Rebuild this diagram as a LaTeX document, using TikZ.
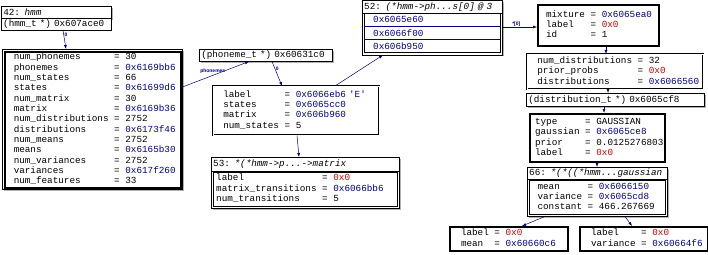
\documentclass[tikz,border=0pt]{standalone}
\usepackage{fontspec}
\setmonofont{Liberation Mono}
\setsansfont{Liberation Sans}
\usetikzlibrary{arrows.meta,positioning,shadows}
\definecolor{ptrblue}{RGB}{0,0,128}
\definecolor{nilred}{RGB}{204,0,0}
\newcommand{\Ptr}[1]{\textcolor{ptrblue}{#1}}
\newcommand{\Nil}{\textcolor{nilred}{0x0}}
\newcommand{\fields}[1]{\begin{tabular}{@{}lll@{}}#1\end{tabular}}

\begin{document}
\begin{tikzpicture}[x=1pt, y=-1pt,
    disp/.style={anchor=north west, inner ysep=0pt, align=left, fill=white,
                 font=\ttfamily\fontsize{9.3}{10.35}\selectfont\setlength{\tabcolsep}{0.3em}},
    dispframe/.style={disp, draw, line width=0.5pt,
                 drop shadow={shadow xshift=1.5pt, shadow yshift=-1.5pt, fill=black!30, opacity=1}},
    heavy/.style={disp, draw, line width=2pt},
    twin/.style={disp, draw, double, double distance=1.2pt, line width=0.5pt},
    ref/.style={draw=ptrblue, line width=0.5pt, -{Latex[length=4pt,width=3pt]}},
    reflabel/.style={font=\sffamily\bfseries\fontsize{5}{6}\selectfont, text=ptrblue, inner sep=0.5pt}]
  \useasboundingbox (0,0) rectangle (708,254);

  % the model pointer and its struct
  \node[dispframe, text width=106pt, inner xsep=2pt, minimum height=12pt] (hmmtitle) at (1,6) {42: \textit{hmm}};
  \node[disp, draw, text width=106pt, inner xsep=2pt, minimum height=12pt] (hmmptr) at (1,18) {(hmm\_t *) 0x607ace0};
  \node[dispframe, minimum width=180pt, minimum height=140pt, inner sep=0pt] (hmmframe) at (2,49) {};
  \node[disp, draw, line width=1.5pt, text width=158pt, inner xsep=9pt, minimum height=136pt] (hmmstruct) at (4,51) {\fields{
      num\_phonemes      & = & 30\\
      phonemes          & = & \Ptr{0x6169bb6}\\
      num\_states        & = & 66\\
      states            & = & \Ptr{0x61699d6}\\
      num\_matrix        & = & 30\\
      matrix            & = & \Ptr{0x6169b36}\\
      num\_distributions & = & 2752\\
      distributions     & = & \Ptr{0x6173f46}\\
      num\_means         & = & 2752\\
      means             & = & \Ptr{0x6165b30}\\
      num\_variances     & = & 2752\\
      variances         & = & \Ptr{0x617f260}\\
      num\_features      & = & 33}};

  % first phoneme
  \node[dispframe, text width=129pt, inner xsep=2pt, minimum height=12pt] (phonemeptr) at (199,49) {(phoneme\_t *) 0x60631c0};
  \node[twin, text width=146pt, inner xsep=10pt, minimum height=49pt] (phoneme) at (213,86) {\fields{
      label      & = & \Ptr{0x6066eb6 'E'}\\
      states     & = & \Ptr{0x6065cc0}\\
      matrix     & = & \Ptr{0x606b960}\\
      num\_states & = & 5}};

  % its transition matrix
  \node[dispframe, minimum width=188pt, minimum height=51pt, inner sep=0pt] (matframe) at (211,157) {};
  \node[disp, draw, text width=184pt, inner xsep=2pt, minimum height=14pt] (mattitle) at (211,157) {53: \textit{*(*hmm->p...->matrix}};
  \node[disp, draw, text width=178pt, inner xsep=3pt, minimum height=34pt] (matrix) at (213,172) {\fields{
      label              & = & \Nil\\
      matrix\_transitions & = & \Ptr{0x6066bb6}\\
      num\_transitions    & = & 5}};

  % its states
  \node[dispframe, minimum width=140pt, minimum height=54pt, inner sep=0pt] (arrframe) at (362,0.5) {};
  \node[disp, draw, text width=136pt, inner xsep=2pt, minimum height=12.5pt] (arrtitle) at (362,0.5) {52: \textit{(*hmm->ph...s[0] @ 3}};
  \node[disp, draw, text width=118pt, inner xsep=9pt, minimum height=13pt] (cellA) at (364,13) {\Ptr{0x6065e60}};
  \node[disp, draw, text width=118pt, inner xsep=9pt, minimum height=13pt] (cellB) at (364,26) {\Ptr{0x6066f00}};
  \node[disp, draw, text width=118pt, inner xsep=9pt, minimum height=13pt] (cellC) at (364,39) {\Ptr{0x606b950}};
  \draw[ptrblue] (cellA.south west) -- (cellA.south east);
  \draw[ptrblue, line width=1.5pt] (cellB.south west) -- (cellB.south east);

  % state 0 and its mixture
  \node[heavy, text width=105pt, inner xsep=8pt, minimum height=41pt] (mixture) at (537,4) {\fields{
      mixture & = & \Ptr{0x6065ea0}\\
      label   & = & \Nil\\
      id      & = & 1}};
  \node[twin, text width=156pt, inner xsep=10pt, minimum height=35pt] (distset) at (527,54) {\fields{
      num\_distributions & = & 32\\
      prior\_probs       & = & \Nil\\
      distributions     & = & \Ptr{0x6066560}}};
  \node[dispframe, text width=174pt, inner xsep=2pt, minimum height=13pt] (distptr) at (526,93) {(distribution\_t *) 0x6065cf8};
  \node[heavy, text width=125pt, inner xsep=5pt, minimum height=48pt] (dist) at (529,113) {\fields{
      type     & = & GAUSSIAN\\
      gaussian & = & \Ptr{0x6065ce8}\\
      prior    & = & 0.0125276803\\
      label    & = & \Nil}};

  % the gaussian
  \node[dispframe, minimum width=140pt, minimum height=49pt, inner sep=0pt] (gaussframe) at (527,167) {};
  \node[disp, draw, text width=136pt, inner xsep=2pt, minimum height=12pt] (gausstitle) at (527,167) {66: \textit{*(*((*hmm...gaussian}};
  \node[disp, draw, line width=1pt, text width=120pt, inner xsep=8pt, minimum height=34pt] (gauss) at (529,180) {\fields{
      mean     & = & \Ptr{0x6066150}\\
      variance & = & \Ptr{0x6065cd8}\\
      constant & = & 466.267669}};
  \node[heavy, text width=96pt, inner xsep=11pt, minimum height=24pt] (mean) at (449,226) {\fields{
      label & = & \Nil\\
      mean  & = & \Ptr{0x60660c6}}};
  \node[heavy, text width=106pt, inner xsep=11pt, minimum height=24pt] (variance) at (579,226) {\fields{
      label    & = & \Nil\\
      variance & = & \Ptr{0x60664f6}}};

  % references
  \draw[ref] ([xshift=62pt]hmmptr.south west) -- node[reflabel, pos=0.25, right] {0} ([xshift=64pt]hmmframe.north west);
  \draw[ref] ([yshift=-38pt]hmmframe.north east) -- node[reflabel, midway, above, xshift=-3pt] {phonemes} ([xshift=50pt]phonemeptr.south west);
  \draw[ref] ([xshift=73pt]phonemeptr.south west) -- node[reflabel, pos=0.3, right] {0} ([xshift=69pt]phoneme.north west);
  \draw[ref] ([xshift=122pt]phoneme.north west) -- ([xshift=21pt]arrframe.south west);
  \draw[ref] ([xshift=84pt]phoneme.south west) -- ([xshift=88pt]matframe.north west);
  \draw[ref] ([yshift=-26.5pt]arrframe.north east) -- node[reflabel, pos=0.4, above] {*[0]} ([yshift=-23pt]mixture.north west);
  \draw[ref] ([xshift=69pt]mixture.south west) -- ([xshift=79pt]distset.north west);
  \draw[ref] ([xshift=81pt]distset.south west) -- ([xshift=82pt]distptr.north west);
  \draw[ref] ([xshift=78pt]distptr.south west) -- ([xshift=75pt]dist.north west);
  \draw[ref] ([xshift=68pt]dist.south west) -- ([xshift=70pt]gaussframe.north west);
  \draw[ref] ([xshift=18pt]gaussframe.south west) -- ([xshift=73pt]mean.north west);
  \draw[ref] ([xshift=98pt]gaussframe.south west) -- ([xshift=53pt]variance.north west);
\end{tikzpicture}
\end{document}
